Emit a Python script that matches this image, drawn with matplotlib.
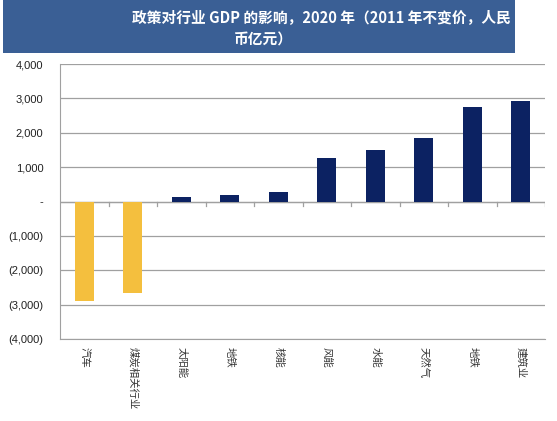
import matplotlib
matplotlib.use("Agg")
import matplotlib.pyplot as plt
from matplotlib.patches import Rectangle

plt.rcParams['font.family'] = ['Liberation Sans', 'Noto Sans CJK SC', 'DejaVu Sans']

categories = ["汽车", "煤炭相关行业", "太阳能", "地铁", "核能", "风能", "水能", "天然气", "地铁", "建筑业"]
values = [-2900, -2670, 120, 200, 270, 1260, 1510, 1860, 2760, 2910]
colors = ["#F4BF3E", "#F4BF3E"] + ["#0C2262"] * 8
yticks = [4000, 3000, 2000, 1000, 0, -1000, -2000, -3000, -4000]
ytick_labels = ["4,000", "3,000", "2,000", "1,000", "-", "(1,000)", "(2,000)", "(3,000)", "(4,000)"]
title_line1 = "政策对行业 GDP 的影响，2020 年（2011 年不变价，人民"
title_line2 = "币亿元）"

fig = plt.figure(figsize=(5.57, 4.21), dpi=100)
fig.patch.set_facecolor("white")

# title banner
fig.patches.append(Rectangle((0.005, 1 - 53 / 421), 0.92, 53 / 421, transform=fig.transFigure,
                             facecolor="#3A5F95", edgecolor="none", zorder=0))
fig.text(321 / 557, 1 - 17 / 421, title_line1, color="white", fontsize=10.6, ha="center", va="center",
         family=["Noto Sans CJK SC", "DejaVu Sans"], weight="bold")
fig.text(263 / 557, 1 - 40 / 421, title_line2, color="white", fontsize=10.6, ha="center", va="center",
         family=["Noto Sans CJK SC", "DejaVu Sans"], weight="bold")

ax = fig.add_axes([60 / 557, 1 - 339 / 421, 485 / 557, 275 / 421])
x = list(range(len(categories)))
ax.bar(x, values, width=0.4, color=colors, zorder=3)
ax.set_xlim(-0.5, len(categories) - 0.5)
ax.set_ylim(-4000, 4000)
ax.set_yticks(yticks)
ax.set_yticklabels(ytick_labels, fontsize=8, color="#222222")
ax.yaxis.grid(True, color="#a0a0a0", linewidth=0.9, zorder=1)
ax.tick_params(axis="y", length=0, pad=12)
ax.set_xticks(x)
ax.set_xticklabels(categories, rotation=270, fontsize=7.5, family=["Noto Sans CJK SC", "DejaVu Sans"],
                   color="#333333", va="top")
ax.tick_params(axis="x", length=0, pad=6)
# zero-line ticks between categories
for i in range(len(categories)):
    ax.plot([i + 0.5, i + 0.5], [0, -120], color="#a0a0a0", linewidth=0.9, zorder=2)
ax.axhline(0, color="#a0a0a0", linewidth=0.9, zorder=2)
for s in ["top", "right"]:
    ax.spines[s].set_visible(False)
ax.spines["left"].set_color("#a0a0a0")
ax.spines["bottom"].set_color("#a0a0a0")

fig.savefig("out.png", dpi=100)
